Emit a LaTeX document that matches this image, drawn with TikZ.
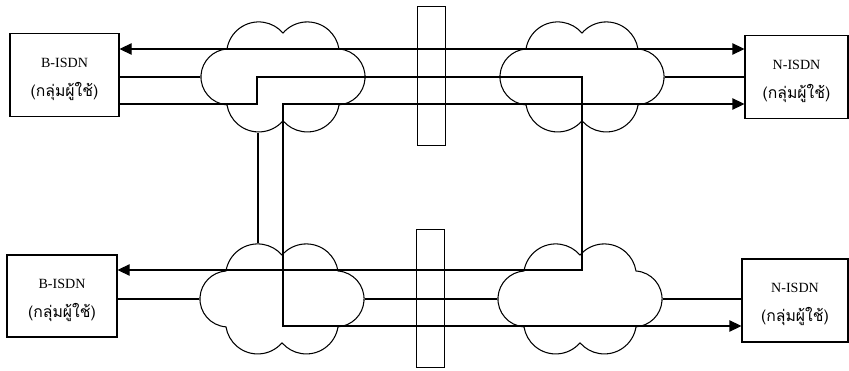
\documentclass[tikz,border=0pt]{standalone}
\usepackage{fontspec}
\setmainfont{Liberation Serif}
\newfontfamily\thaifont[Script=Thai, Scale=1.12]{Loma}
\usetikzlibrary{arrows.meta}

\begin{document}
\begin{tikzpicture}[x=0.03cm, y=-0.03cm, line width=0.9pt,
  userbox/.style={draw, align=center, inner sep=0pt, minimum width=3.2cm,
    minimum height=2.5cm, font=\fontsize{12}{22}\selectfont},
  cloudbox/.style={inner sep=0pt, minimum width=4.92cm, minimum height=3.3cm},
  gatebar/.style={draw, inner sep=0pt, minimum width=0.85cm, minimum height=4.15cm},
  cloudline/.style={draw, line join=round},
  arrow/.style={-{Triangle[length=3.6mm, width=3.4mm]}},
  biarrow/.style={{Triangle[length=3.6mm, width=3.4mm]}-{Triangle[length=3.6mm, width=3.4mm]}}
]
\useasboundingbox (0,0) rectangle (849,371);
\node[userbox, minimum width=3.27cm] (bTL) at (64.5,75) {\rule{0pt}{15pt}B-ISDN\\[3pt]{\thaifont (กลุ่มผู้ใช้)}};
\node[userbox, minimum width=3.09cm] (nTR) at (796.5,77) {\rule{0pt}{15pt}N-ISDN\\[3pt]{\thaifont (กลุ่มผู้ใช้)}};
\node[userbox, minimum width=3.3cm, minimum height=2.46cm] (bBL) at (62,296) {\rule{0pt}{15pt}B-ISDN\\[3pt]{\thaifont (กลุ่มผู้ใช้)}};
\node[userbox, minimum width=3.18cm, minimum height=2.49cm] (nBR) at (795,300.5) {\rule{0pt}{15pt}N-ISDN\\[3pt]{\thaifont (กลุ่มผู้ใช้)}};
\node[cloudbox] (cTL) at (283,77) {};
\node[cloudbox] (cTR) at (582,77) {};
\node[cloudbox] (cBL) at (282,299) {};
\node[cloudbox] (cBR) at (580,299) {};
\node[gatebar] (gT) at (431.5,76) {};
\node[gatebar] (gB) at (430.5,298.5) {};
\coordinate (r1) at (0,49);
\coordinate (r3) at (0,104);
\coordinate (r4) at (0,270);
\coordinate (r6) at (0,326);
\foreach \c in {cTL,cTR,cBL,cBR}
  \draw[cloudline, shift={(\c.center)}] (-56,-28)
    arc[start angle=189, end angle=319.2, radius=32.1]
    arc[start angle=220.8, end angle=351, radius=32.1]
    arc[start angle=-86, end angle=86, radius=28]
    arc[start angle=9, end angle=139.2, radius=32.1]
    arc[start angle=40.8, end angle=171, radius=32.1]
    arc[start angle=94, end angle=266, radius=28] -- cycle;
\draw[biarrow] (bTL.east |- r1) -- (nTR.west |- r1);
\draw (bTL.east |- cTL.west) -- (cTL.west);
\draw (cTR.east) -- (nTR.west |- cTR.east);
\draw[arrow] (bTL.east |- r3) -| ([xshift=-0.78cm]cTL.center) -| (cTR.center |- r4) -- (bBL.east |- r4);
\draw ([xshift=-0.75cm]cTL.south) -- ([xshift=-0.75cm]cTL.south |- cBL.north);
\draw[biarrow] (nTR.west |- r3) -| (cTL.center |- r6) -- (nBR.west |- r6);
\draw (bBL.east |- cBL.west) -- (cBL.west);
\draw (cBL.east) -- (cBR.west);
\draw (cBR.east) -- (nBR.west |- cBR.east);
\end{tikzpicture}
\end{document}
